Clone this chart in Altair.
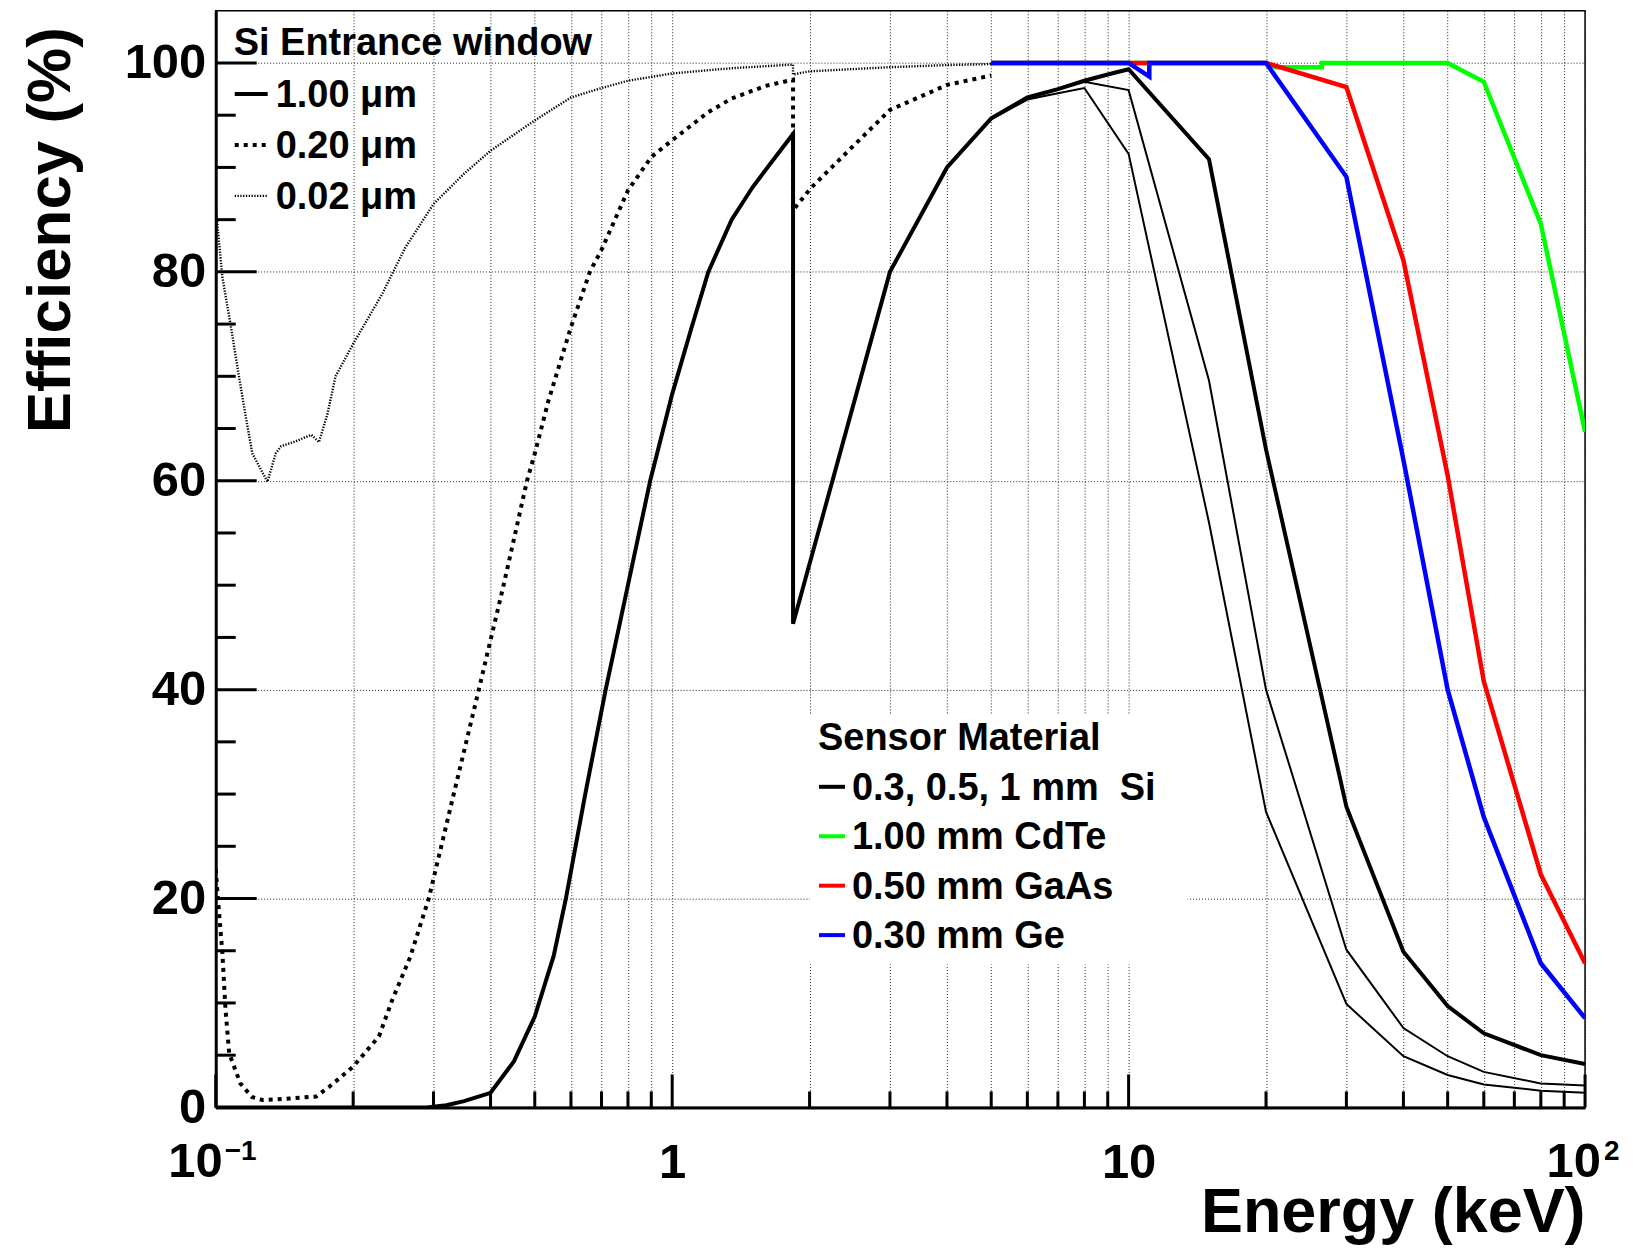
import altair as alt
import pandas as pd

# ------------------------------------------------------------------ data
# Si sensor, 1.00 um entrance window, 1 mm thick (thick solid line)
SI1_E = [0.1, 0.2, 0.29, 0.32, 0.35, 0.4, 0.45, 0.5, 0.55, 0.585, 0.645, 0.715, 0.8, 0.895,
         1.0, 1.1, 1.2, 1.35, 1.5, 1.65, 1.84, 1.84, 3.0, 4.0, 5.0, 6.0, 7.0, 8.0, 9.0, 10.0,
         15.0, 20.0, 30.0, 40.0, 50.0, 60.0, 80.0, 100.0]
SI1_V = [0, 0, 0, 0.2, 0.6, 1.4, 4.4, 8.7, 14.5, 20, 30, 40, 50, 60,
         68.3, 74.5, 80, 85.0, 88.1, 90.5, 93.2, 46.3, 80, 90, 94.7, 96.7, 97.5, 98.3, 98.9, 99.4,
         90.8, 63, 28.8, 14.9, 9.7, 7.1, 5.0, 4.15]
# Si 0.5 mm and 0.3 mm (thin solid lines)
SI05_E = [5, 6, 7, 8, 10, 15, 20, 30, 40, 50, 60, 80, 100]
SI05_V = [94.7, 96.7, 97.5, 98.2, 97.4, 69.6, 40, 15.1, 7.6, 4.9, 3.4, 2.3, 2.1]
SI03_E = [5, 6, 7, 8, 10, 15, 20, 30, 40, 50, 60, 80, 100]
SI03_V = [94.6, 96.5, 97.1, 97.6, 91.3, 56, 28.3, 9.9, 4.9, 3.1, 2.2, 1.6, 1.4]
# 0.20 um entrance window
W020_E = [0.1, 0.1011, 0.1034, 0.105, 0.107, 0.1132, 0.12, 0.1267, 0.145, 0.166, 0.1776, 0.2,
          0.2278, 0.2437, 0.2667, 0.2929, 0.3322, 0.377, 0.4272, 0.4808, 0.5, 0.536, 0.6, 0.66,
          0.7, 0.8, 0.9, 1.0, 1.2, 1.35, 1.6, 1.84, 1.84, 2.02, 2.5, 3.0, 4.0, 5.0]
W020_V = [22.8, 20.0, 14.8, 9.5, 5.2, 2.3, 1.0, 0.7, 0.85, 1.05, 2.0, 3.9,
          6.8, 10.3, 14.4, 20, 30, 40, 50, 60, 62.6, 67.7, 74.7, 80,
          82.1, 87.8, 91.0, 92.6, 95.3, 96.6, 97.8, 98.4, 85.9, 88.1, 92.1, 95.5, 97.9, 98.8]
# 0.02 um entrance window
W002_E = [0.1, 0.1034, 0.108, 0.1124, 0.1165, 0.1203, 0.1298, 0.1353, 0.139, 0.15, 0.162,
          0.1683, 0.1757, 0.183, 0.2, 0.2317, 0.26, 0.3, 0.35, 0.4, 0.5, 0.6, 0.7, 0.8, 1.0,
          1.35, 1.84, 1.84, 2.0, 3.0, 4.0, 5.0]
W002_V = [86.2, 79.5, 74.7, 70.0, 66.0, 62.6, 59.9, 62.6, 63.3, 63.8, 64.4,
          63.7, 66.4, 70.0, 73.1, 77.9, 82.3, 86.5, 89.4, 91.6, 94.5, 96.7, 97.6, 98.3, 99.0,
          99.5, 99.85, 98.9, 99.2, 99.6, 99.8, 99.9]
# other sensor materials
CDTE_E = [5, 20, 21, 26.5, 26.5, 50, 60, 80, 100]
CDTE_V = [100, 100, 99.6, 99.6, 100, 100, 98.2, 84.6, 64.7]
GAAS_E = [5, 20, 30, 40, 50, 60, 80, 100]
GAAS_V = [100, 100, 97.7, 81.1, 60.5, 40.8, 22.3, 13.8]
GE_E = [5, 10.0, 11.1, 11.1, 20, 30, 40, 50, 60, 80, 100]
GE_V = [100, 100, 98.7, 100, 100, 89.1, 62, 40, 27.8, 13.8, 8.55]

# axis ticks / labels
X_MAJOR = [0.1, 1, 10, 100]
X_MINOR = [0.2, 0.3, 0.4, 0.5, 0.6, 0.7, 0.8, 0.9, 2, 3, 4, 5, 6, 7, 8, 9,
           20, 30, 40, 50, 60, 70, 80, 90]
Y_MAJOR = [0, 20, 40, 60, 80, 100]
Y_MINOR = [5, 10, 15, 25, 30, 35, 45, 50, 55, 65, 70, 75, 85, 90, 95]

WINDOW_LEGEND = ["1.00 \u03bcm", "0.20 \u03bcm", "0.02 \u03bcm"]
MATERIAL_LEGEND = ["0.3, 0.5, 1 mm \u00a0Si", "1.00 mm CdTe", "0.50 mm GaAs", "0.30 mm Ge"]
MATERIAL_COLORS = ["#000000", "#00ff00", "#ff0000", "#0000ff"]

# ------------------------------------------------------------------ layout
W, H = 1371, 1098
FONT = "Liberation Sans"
GRID_DASH = [1, 2]
GRID_COLOR = "#222222"
DOT02 = [4, 5]
DOT002 = [1.3, 1.5]


def frame(e, v):
    return pd.DataFrame({"E": e, "eff": v, "i": list(range(len(e)))})


xscale = alt.Scale(type="log", domain=[0.1, 100], nice=False)
yscale = alt.Scale(domain=[0, 105], nice=False, zero=False)

xaxis = alt.Axis(
    values=X_MAJOR + X_MINOR, grid=True, gridDash=GRID_DASH, gridColor=GRID_COLOR,
    gridWidth=1, ticks=False, domain=True, domainColor="black", domainWidth=3,
    labelExpr="datum.value == 1 ? '1' : (datum.value == 10 ? '10' : '')",
    labelFont=FONT, labelFontSize=49, labelFontWeight="bold", labelColor="black",
    labelBaseline="alphabetic", labelPadding=70, labelAlign="center",
    labelOverlap=False, labelFlush=False,
    title="Energy (keV)", titleFont=FONT, titleFontSize=63, titleFontWeight="bold",
    titleColor="black", titleAlign="right", titleBaseline="alphabetic",
    titleX=W, titleY=124, titleAngle=0,
)
yaxis = alt.Axis(
    values=Y_MAJOR, grid=True, gridDash=GRID_DASH, gridColor=GRID_COLOR, gridWidth=1,
    ticks=False, domain=True, domainColor="black", domainWidth=3,
    labelFont=FONT, labelFontSize=49, labelFontWeight="bold", labelColor="black",
    labelPadding=10, labelAlign="right", labelBaseline="middle",
    labelOverlap=False, labelFlush=False,
    title="Efficiency (%)", titleFont=FONT, titleFontSize=62, titleFontWeight="bold",
    titleColor="black", titleAngle=270, titleAlign="right", titleBaseline="alphabetic",
    titleX=-146, titleY=16,
)


def X(field):
    return alt.X(field, scale=xscale, axis=xaxis)


def Y(field):
    return alt.Y(field, scale=yscale, axis=yaxis)


def curve(e, v, color="black", width=4, dash=None):
    kw = dict(color=color, strokeWidth=width, strokeJoin="miter", clip=True)
    if dash is not None:
        kw["strokeDash"] = dash
    return alt.Chart(frame(e, v)).mark_line(**kw).encode(x=X("E:Q"), y=Y("eff:Q"), order="i:Q")


one = pd.DataFrame({"a": [0]})

# white box behind the lower legend (hides the grid there)
legend_box = alt.Chart(one).mark_rect(color="white").encode(
    x=alt.value(595), x2=alt.value(973), y=alt.value(705), y2=alt.value(955))

layers = [
    legend_box,
    curve(SI1_E, SI1_V, width=4),
    curve(SI05_E, SI05_V, width=2),
    curve(SI03_E, SI03_V, width=2),
    curve(W020_E, W020_V, width=4, dash=DOT02),
    curve(W002_E, W002_V, width=2.4, dash=DOT002),
    curve(CDTE_E, CDTE_V, color="#00ff00", width=4.5),
    curve(GAAS_E, GAAS_V, color="#ff0000", width=4.5),
    curve(GE_E, GE_V, color="#0000ff", width=4.5),
]

# ticks drawn inward like the original
layers.append(alt.Chart(pd.DataFrame({"v": Y_MAJOR})).mark_rule(color="black", strokeWidth=3).encode(
    y=Y("v:Q"), x=alt.value(0), x2=alt.value(41)))
layers.append(alt.Chart(pd.DataFrame({"v": Y_MINOR})).mark_rule(color="black", strokeWidth=3).encode(
    y=Y("v:Q"), x=alt.value(0), x2=alt.value(20)))
layers.append(alt.Chart(pd.DataFrame({"t": X_MAJOR})).mark_rule(color="black", strokeWidth=3).encode(
    x=X("t:Q"), y=alt.value(H), y2=alt.value(H - 33)))
layers.append(alt.Chart(pd.DataFrame({"t": X_MINOR})).mark_rule(color="black", strokeWidth=3).encode(
    x=X("t:Q"), y=alt.value(H), y2=alt.value(H - 16)))


# 10^-1 and 10^2 tick labels with superscripts
def label(val, text, dx, size, ypix, align):
    return alt.Chart(pd.DataFrame({"t": [val]})).mark_text(
        text=text, font=FONT, fontSize=size, fontWeight="bold", color="black",
        align=align, baseline="alphabetic", dx=dx).encode(
        x=X("t:Q"), y=alt.value(ypix))


layers += [
    label(X_MAJOR[0], "10", 7, 49, H + 70, "right"),
    label(X_MAJOR[0], "\u22121", 9, 28, H + 53, "left"),
    label(X_MAJOR[-1], "10", 16, 49, H + 70, "right"),
    label(X_MAJOR[-1], "2", 19, 28, H + 53, "left"),
]


def text_at(txt, x, y, size=38):
    return alt.Chart(one).mark_text(
        text=txt, font=FONT, fontSize=size, fontWeight="bold", color="black",
        align="left", baseline="alphabetic").encode(x=alt.value(x), y=alt.value(y))


def swatch(x1, x2, y, color="black", width=4, dash=None):
    kw = dict(color=color, strokeWidth=width)
    if dash is not None:
        kw["strokeDash"] = dash
    return alt.Chart(one).mark_rule(**kw).encode(x=alt.value(x1), x2=alt.value(x2), y=alt.value(y))


# upper-left legend: entrance window
layers.append(text_at("Si Entrance window", 18, 44))
win_styles = [dict(width=4), dict(width=4, dash=DOT02), dict(width=2.4, dash=DOT002)]
for k, (lab, st) in enumerate(zip(WINDOW_LEGEND, win_styles)):
    base = 96.7 + 51 * k
    layers.append(swatch(19, 52, base - 13.4, **st))
    layers.append(text_at(lab, 60, base))

# lower legend: sensor material
layers.append(text_at("Sensor Material", 603, 740))
for k, (lab, col) in enumerate(zip(MATERIAL_LEGEND, MATERIAL_COLORS)):
    base = 790 + 49.5 * k
    layers.append(swatch(604, 630, base - 13, color=col, width=4))
    layers.append(text_at(lab, 637, base))

chart = alt.layer(*layers).properties(
    width=W, height=H, background="white",
    padding={"left": 208, "top": 2, "right": 40, "bottom": 141},
    autosize=alt.AutoSizeParams(type="none"),
).configure_view(stroke="black", strokeWidth=1.5)

chart.save("out.html", embed_options={"renderer": "svg", "actions": False})
